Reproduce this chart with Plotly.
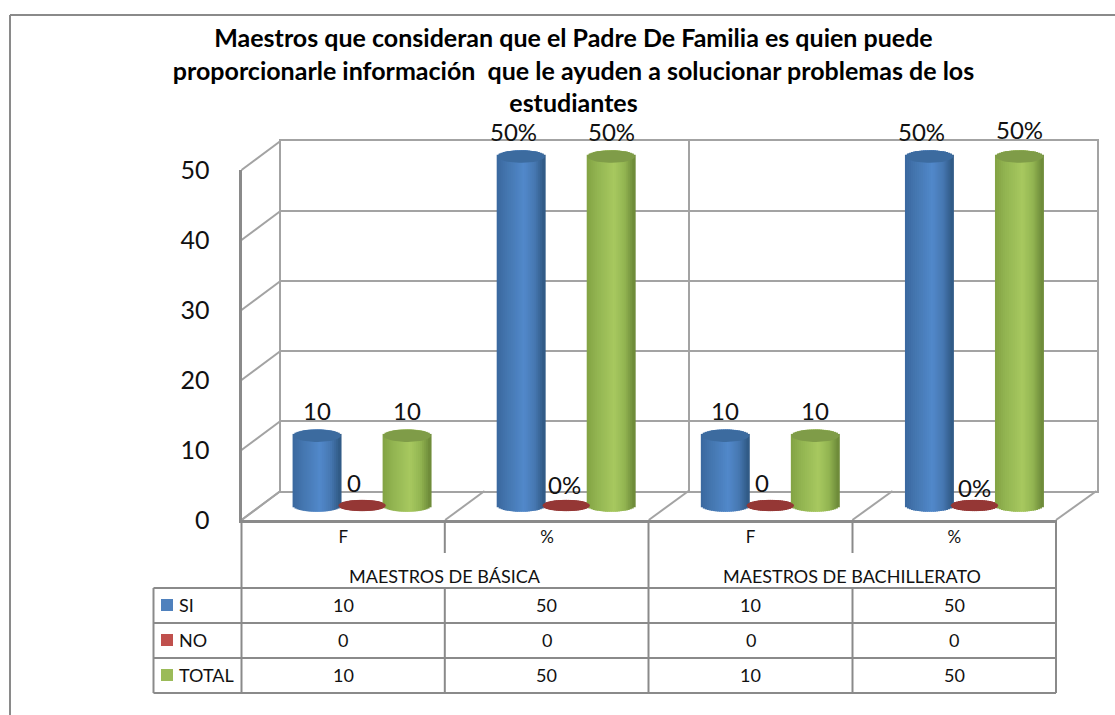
import numpy as np
import plotly.graph_objects as go

W, H = 1115, 715
TITLE = ("Maestros que consideran que el Padre De Familia es quien puede<br>"
         "proporcionarle información\u00a0 que le ayuden a solucionar problemas de los<br>"
         "estudiantes")
CATEGORIES = ["F", "%", "F", "%"]
GROUPS = ["MAESTROS DE BÁSICA", "MAESTROS DE BACHILLERATO"]
SERIES = ["SI", "NO", "TOTAL"]
SI = [10, 50, 10, 50]
NO = [0, 0, 0, 0]
TOTAL = [10, 50, 10, 50]
SI_LABELS = ["10", "50%", "10", "50%"]
NO_LABELS = ["0", "0%", "0", "0%"]
TOTAL_LABELS = ["10", "50%", "10", "50%"]
Y_TICKS = [0, 10, 20, 30, 40, 50]

FONT = "Lato, Carlito, Calibri, sans-serif"
GRID = "#a3a3a3"
EDGE = "#8a8a8a"

def fx(px): return px / W
def fy(py): return 1 - py / H

# pixel frame of the pseudo-3D box
FL, FR, FB, FT = 241.5, 1056.0, 520.0, 170.0   # front plane
BL, BR, BB, BT = 280.5, 1096.5, 491.0, 141.0   # back wall
# bar plane
PL, PR = 260.0, 1076.5
PY0, PPU = 505.5, 6.98
PTOP, PBOT = 90.0, 545.0
SERIES_OFF = 0.2205
HALF_W = 0.1165
ELL = 6.3 / PPU

STYLE = {
    "SI": dict(stops=[(-1, "#3a689f"), (-.55, "#4577b0"), (.15, "#5289cb"), (.6, "#4778b2"), (1, "#2f5882")],
               cap="#3c6b9f", off=-SERIES_OFF, e=ELL),
    "NO": dict(stops=[(-1, "#953735"), (1, "#953735")], cap="#953735", off=0.0, e=5.6 / PPU),
    "TOTAL": dict(stops=[(-1, "#83a344"), (-.55, "#93b552"), (.15, "#a8c960"), (.6, "#93b552"), (1, "#6b8838")],
                  cap="#7f9c48", off=SERIES_OFF, e=ELL),
}

def hex2rgb(c): return np.array([int(c[i:i + 2], 16) for i in (1, 3, 5)], float)

def shade(stops, t):
    ts = [s[0] for s in stops]
    rgb = np.array([hex2rgb(s[1]) for s in stops])
    v = [np.interp(t, ts, rgb[:, k]) for k in range(3)]
    return "rgb(%d,%d,%d)" % tuple(v)

fig = go.Figure()
# helper traces so the wall and the front axes are drawn
fig.add_trace(go.Scatter(x=[0], y=[0], xaxis="x", yaxis="y", mode="markers", marker=dict(opacity=0),
                         showlegend=False, hoverinfo="skip"))
fig.add_trace(go.Scatter(x=[0], y=[0], xaxis="x2", yaxis="y2", mode="markers", marker=dict(opacity=0),
                         showlegend=False, hoverinfo="skip"))
N = 24
ts = (np.arange(N) + .5) / N * 2 - 1
values = {"SI": SI, "NO": NO, "TOTAL": TOTAL}
for name in ["NO", "SI", "TOTAL"]:
    st = STYLE[name]
    xs, bases, tops, cols = [], [], [], []
    for i, v in enumerate(values[name]):
        for t in ts:
            h = st["e"] * np.sqrt(1 - t * t)
            xs.append(i + st["off"] + t * HALF_W)
            bases.append(-h)
            tops.append(v + 2 * h)
            cols.append(shade(st["stops"], t))
    fig.add_trace(go.Bar(x=xs, y=tops, base=bases, width=2 * HALF_W / N * 1.7,
                         marker=dict(color=cols, line=dict(width=0)),
                         xaxis="x3", yaxis="y3", name=name, showlegend=False, hoverinfo="skip"))
    th = np.linspace(0, 2 * np.pi, 50)
    ex, ey = [], []
    for i, v in enumerate(values[name]):
        ex += list(i + st["off"] + HALF_W * np.cos(th)) + [None]
        ey += list(v + st["e"] * np.sin(th)) + [None]
    fig.add_trace(go.Scatter(x=ex, y=ey, mode="lines", fill="toself", fillcolor=st["cap"],
                             line=dict(width=0, color=st["cap"]), xaxis="x3", yaxis="y3",
                             showlegend=False, hoverinfo="skip"))

shapes = []
def line(x0, y0, x1, y1, color=EDGE, width=2):
    shapes.append(dict(type="line", xref="paper", yref="paper", x0=fx(x0), y0=fy(y0), x1=fx(x1), y1=fy(y1),
                       line=dict(color=color, width=width), layer="below"))

# outer frame
line(10, 715, 10, 15)
line(10, 15, 1115, 15)

# side wall diagonals
for v in Y_TICKS:
    f = v / 50
    line(FL, FB + (FT - FB) * f, BL, BB + (BT - BB) * f, GRID)
# floor diagonals
for k in range(5):
    line(FL + (FR - FL) * k / 4, FB, BL + (BR - BL) * k / 4, BB, GRID)

# data table
RY = [588, 623, 658, 693]
for y in RY:
    line(153.5, y, FR, y)
line(153.5, RY[0], 153.5, RY[-1])
line(FL, FB, FL, RY[-1])
line(FR, FB, FR, RY[-1])
line(648.5, FB, 648.5, RY[-1])
for x in (444.8, 852.5):
    line(x, FB, x, 553)
    line(x, RY[0], x, RY[-1])

ann = []
LABEL_SHIFT = {"SI": [(0, 25), (-8, 25), (0, 25), (-8, 25)],
               "NO": [(-8, 23), (-2, 21), (-8, 23), (0, 18)],
               "TOTAL": [(0, 25), (0, 25), (0, 25), (0, 27)]}
LABELS = {"SI": SI_LABELS, "NO": NO_LABELS, "TOTAL": TOTAL_LABELS}
for name in SERIES:
    for i, v in enumerate(values[name]):
        dx, dy = LABEL_SHIFT[name][i]
        ann.append(dict(x=i + STYLE[name]["off"], y=v, xref="x3", yref="y3", text=LABELS[name][i],
                        xshift=dx, yshift=dy, showarrow=False, xanchor="center", yanchor="middle",
                        font=dict(family=FONT, size=24, color="#111111")))

TF = dict(family=FONT, size=18, color="#111111")
for g, gx in zip(GROUPS, (0.5, 2.5)):
    ann.append(dict(x=gx, y=fy(576), xref="x2", yref="paper", text=g, showarrow=False, font=TF,
                    yanchor="middle", xanchor="center"))
rows = [SI, NO, TOTAL]
SW = ["#4F81BD", "#C0504D", "#9BBB59"]
for r, name in enumerate(SERIES):
    cy = 605 + 35 * r
    ann.append(dict(x=fx(177), y=fy(cy), xref="paper", yref="paper", text=name, xanchor="left", yanchor="middle",
                    showarrow=False, font=TF))
    shapes.append(dict(type="rect", xref="paper", yref="paper", x0=fx(161), x1=fx(173), y0=fy(cy - 6), y1=fy(cy + 6),
                       fillcolor=SW[r], line=dict(width=0)))
    for i, v in enumerate(rows[r]):
        ann.append(dict(x=i, y=fy(cy), xref="x2", yref="paper", text=str(v), showarrow=False, font=TF,
                        yanchor="middle", xanchor="center"))

fig.update_layout(
    template="none",
    width=W, height=H, margin=dict(l=0, r=0, t=0, b=0, pad=0), autosize=False,
    paper_bgcolor="white", plot_bgcolor="rgba(0,0,0,0)", barmode="overlay",
    showlegend=False, shapes=shapes, annotations=ann,
    title=dict(text=TITLE, x=573.5 / W, xanchor="center", y=fy(47), yanchor="top",
               font=dict(family=FONT, size=25, color="#000000", weight="bold")),
    # back wall
    xaxis=dict(domain=[fx(BL), fx(BR)], range=[0, 2], tickvals=[0, 1, 2], showgrid=True, gridcolor=GRID, gridwidth=2,
               zeroline=False, showline=True, mirror=True, linecolor=GRID, linewidth=2, showticklabels=False, ticks="",
               anchor="y", automargin=False),
    yaxis=dict(domain=[fy(BB), fy(BT)], range=[0, 50], tickvals=Y_TICKS, showgrid=True, gridcolor=GRID, gridwidth=2,
               zeroline=False, showline=True, mirror=True, linecolor=GRID, linewidth=2, showticklabels=False, ticks="",
               anchor="x", automargin=False),
    # front plane: axis labels
    xaxis2=dict(domain=[fx(FL), fx(FR)], range=[-.5, 3.5], tickvals=[0, 1, 2, 3], ticktext=CATEGORIES,
                tickfont=dict(family=FONT, size=17, color="#111111"), showgrid=False, zeroline=False,
                showline=True, linecolor=EDGE, linewidth=3, ticks="", ticklabelstandoff=0, anchor="y2",
                automargin=False),
    yaxis2=dict(domain=[fy(FB), fy(FT)], range=[0, 50], tickvals=Y_TICKS,
                tickfont=dict(family=FONT, size=25, color="#111111"), showgrid=False, zeroline=False,
                showline=True, linecolor=EDGE, linewidth=3, ticks="", ticklabelstandoff=24, anchor="x2",
                automargin=False),
    # bar plane
    xaxis3=dict(domain=[fx(PL), fx(PR)], range=[-.5, 3.5], visible=False, anchor="y3", automargin=False),
    yaxis3=dict(domain=[fy(PBOT), fy(PTOP)], range=[(PY0 - PBOT) / PPU, (PY0 - PTOP) / PPU], visible=False,
                anchor="x3", automargin=False),
)

fig.write_html("out.html", config=dict(displayModeBar=False),
               post_script="document.body.style.margin='0';")
